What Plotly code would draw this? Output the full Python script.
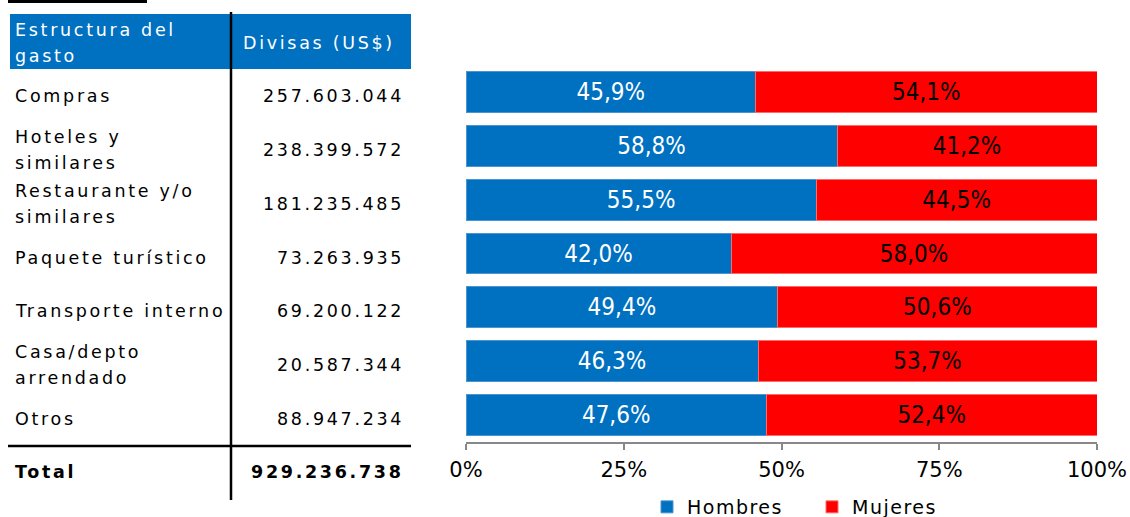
import plotly.graph_objects as go

# ---------------- data ----------------
categorias = ["Compras", "Hoteles y<br>similares", "Restaurante y/o<br>similares",
              "Paquete turístico", "Transporte interno", "Casa/depto<br>arrendado", "Otros"]
divisas = [257603044, 238399572, 181235485, 73263935, 69200122, 20587344, 88947234]
total_divisas = 929236738
hombres = [45.9, 58.8, 55.5, 42.0, 49.4, 46.3, 47.6]
mujeres = [54.1, 41.2, 44.5, 58.0, 50.6, 53.7, 52.4]
series = ["Hombres", "Mujeres"]
ticks = [0, 25, 50, 75, 100]
header = ["Estructura del<br>gasto", "Divisas (US$)"]

W, H = 1130, 517
BLUE = "#0070C0"
RED = "#FF0000"
TFONT = "DejaVu Sans, Verdana, sans-serif"
CFONT = "DejaVu Sans Condensed, DejaVu Sans, sans-serif"
FS = 17.5


def px(x):
    return x / W


def py(y):
    return 1 - y / H


def fmt_miles(v):
    return f"{v:,}".replace(",", ".")


def sp(t, bold=False, ls=2.7):
    s = f'<span style="letter-spacing:{ls}px">{t}</span>'
    return f"<b>{s}</b>" if bold else s


fig = go.Figure()
fig.add_trace(go.Bar(
    y=categorias, x=hombres, orientation="h", name=sp(series[0], ls=1.5),
    marker=dict(color=BLUE, line=dict(color="#4d94d0", width=1)),
    texttemplate="%{x:.1f}%", textposition="inside", insidetextanchor="middle",
    constraintext="none",
    textfont=dict(color="white", size=24, family=CFONT), textangle=0,
))
fig.add_trace(go.Bar(
    y=categorias, x=mujeres, orientation="h", name=sp(series[1], ls=1.5),
    marker=dict(color=RED, line=dict(color="#ff6b6b", width=1)),
    texttemplate="%{x:.1f}%", textposition="inside", insidetextanchor="middle",
    constraintext="none",
    textfont=dict(color="black", size=24, family=CFONT), textangle=0,
))

annotations = []
# header
h_lines = header[0].split("<br>")
for k, line in enumerate(h_lines):
    annotations.append(dict(xref="paper", yref="paper", x=px(13), y=py(30 + 26 * k),
                            xanchor="left", yanchor="middle", showarrow=False,
                            text=sp(line), font=dict(color="white", size=FS, family=TFONT)))
annotations.append(dict(xref="paper", yref="paper", x=px(241), y=py(43),
                        xanchor="left", yanchor="middle", showarrow=False,
                        text=sp(header[1]), font=dict(color="white", size=FS, family=TFONT)))
# rows (aligned with the bar categories)
for cat, val in zip(categorias, divisas):
    lines = cat.split("<br>")
    n = len(lines)
    for k, line in enumerate(lines):
        shift = -4 + (n - 1) * 13 - 26 * k
        annotations.append(dict(xref="paper", yref="y", x=px(13), y=cat, yshift=shift,
                                xanchor="left", yanchor="middle", showarrow=False,
                                text=sp(line), font=dict(color="black", size=FS, family=TFONT)))
    annotations.append(dict(xref="paper", yref="y", x=px(406), y=cat, yshift=-4,
                            xanchor="right", yanchor="middle", showarrow=False,
                            text=sp(fmt_miles(val)), font=dict(color="black", size=FS, family=TFONT)))
# total
annotations.append(dict(xref="paper", yref="paper", x=px(13), y=py(472),
                        xanchor="left", yanchor="middle", showarrow=False,
                        text=sp("Total", True), font=dict(color="black", size=FS, family=TFONT)))
annotations.append(dict(xref="paper", yref="paper", x=px(406), y=py(472),
                        xanchor="right", yanchor="middle", showarrow=False,
                        text=sp(fmt_miles(total_divisas), True), font=dict(color="black", size=FS, family=TFONT)))

shapes = [
    dict(type="rect", xref="paper", yref="paper", x0=px(8), x1=px(147), y0=py(3), y1=py(-2),
         fillcolor="black", line=dict(width=0)),
    dict(type="rect", xref="paper", yref="paper", x0=px(10), x1=px(411), y0=py(69), y1=py(14),
         fillcolor=BLUE, line=dict(width=0), layer="below"),
    dict(type="line", xref="paper", yref="paper", x0=px(231), x1=px(231), y0=py(12), y1=py(500),
         line=dict(color="black", width=2.5)),
    dict(type="line", xref="paper", yref="paper", x0=px(8), x1=px(411), y0=py(446), y1=py(446),
         line=dict(color="black", width=2.5)),
]

fig.update_layout(
    width=W, height=H,
    margin=dict(l=0, r=0, t=0, b=0, autoexpand=False),
    paper_bgcolor="white", plot_bgcolor="white",
    barmode="stack", bargap=0.24,
    separators=",.",
    showlegend=True,
    legend=dict(orientation="h", x=px(647), xanchor="left", y=py(507), yanchor="middle",
                entrywidth=120, entrywidthmode="pixels",
                font=dict(size=19, family=TFONT, color="black"), traceorder="normal",
                bgcolor="rgba(0,0,0,0)"),
    xaxis=dict(domain=[px(466), px(1097)], range=[0, 100], tickvals=ticks,
               ticktext=[f"{t}%" for t in ticks], showgrid=False, zeroline=False,
               showline=True, linecolor="#888888", linewidth=2,
               ticks="outside", ticklen=6, tickcolor="#888888", tickwidth=2,
               tickfont=dict(size=21, family=TFONT, color="black"), ticklabelstandoff=2,
               automargin=False, fixedrange=True),
    yaxis=dict(domain=[py(442), py(65)], autorange="reversed", showticklabels=False,
               showgrid=False, zeroline=False, showline=False, ticks="", automargin=False,
               fixedrange=True),
    annotations=annotations,
    shapes=shapes,
)

fig.write_html(
    "out.html",
    config={"displayModeBar": False, "staticPlot": True},
    post_script="document.body.style.margin='0';document.body.style.overflow='hidden';",
)
